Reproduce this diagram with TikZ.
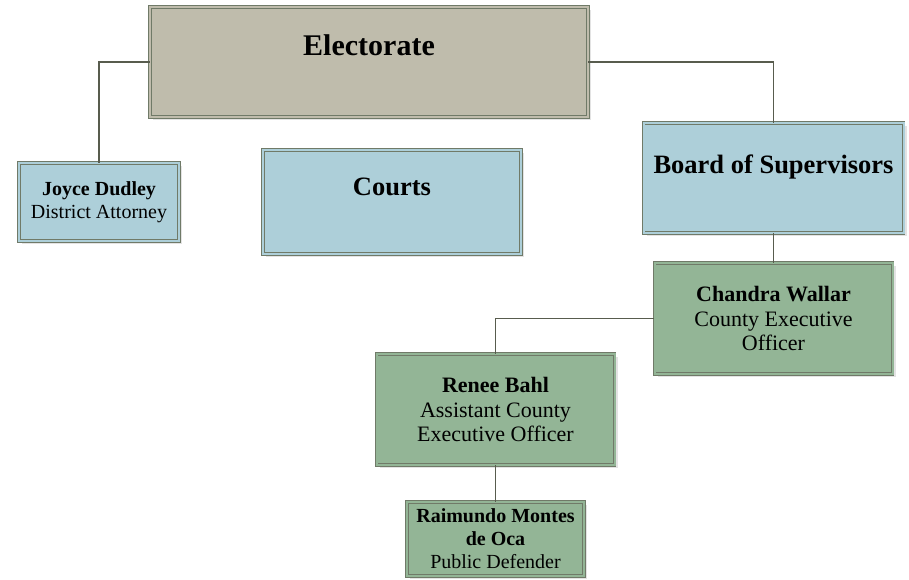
\documentclass[tikz,border=0pt]{standalone}
\usepackage{fontspec}
\setmainfont{Liberation Serif}
\usetikzlibrary{positioning, shadows, calc}
\definecolor{tanfill}{RGB}{191,188,172}
\definecolor{bluefill}{RGB}{173,207,217}
\definecolor{greenfill}{RGB}{147,181,150}
\definecolor{boxline}{RGB}{112,122,104}
\definecolor{linkline}{RGB}{88,92,78}
\tikzset{
  orgbox/.style={rectangle, draw=boxline, line width=0.7pt, double distance=2pt,
    drop shadow={shadow xshift=3pt, shadow yshift=-3pt, fill=black!22},
    align=center, inner sep=0pt},
  tanbox/.style={orgbox, fill=tanfill, double=tanfill},
  bluebox/.style={orgbox, fill=bluefill, double=bluefill},
  greenbox/.style={orgbox, fill=greenfill, double=greenfill},
}

\begin{document}
\begin{tikzpicture}[
  x=1pt, y=-1pt,
  head/.style={font=\fontsize{26.5}{30}\selectfont\bfseries},
  small/.style={font=\fontsize{20}{23}\selectfont},
  big/.style={font=\fontsize{22}{24.5}\selectfont},
  link/.style={draw=linkline, line width=1.2pt}
]
\useasboundingbox (0,0) rectangle (909,579);

% ---- top level ----
\node[tanbox, minimum width=438pt, text height=48pt, text depth=62pt,
      font=\fontsize{30}{34}\selectfont\bfseries]              (electorate) at (369,62)   {Electorate};

% ---- second row ----
\node[bluebox, small, minimum width=160pt, minimum height=78pt] (joyce)   at (99,202)    {\textbf{Joyce Dudley}\\District Attorney};
\node[bluebox, head, minimum width=258pt, text height=45pt, text depth=59pt] (courts) at (392,202) {Courts};
\node[bluebox, head, minimum width=260pt, text height=50pt, text depth=60pt] (board)  at (773.5,178) {Board of Supervisors};

% ---- executive branch ----
\node[greenbox, big, minimum width=238pt, minimum height=111pt] (chandra)  at (773.5,318.5) {\textbf{Chandra Wallar}\\County Executive\\Officer};
\node[greenbox, big, minimum width=238pt, minimum height=111pt] (renee)    at (495.5,409.5) {\textbf{Renee Bahl}\\Assistant County\\Executive Officer};
\node[greenbox, small, minimum width=177pt, minimum height=74pt] (raimundo) at (495.5,539)  {\textbf{Raimundo Montes}\\\textbf{de Oca}\\Public Defender};

% ---- connectors ----
\draw[link] (electorate.west) -| (joyce.north);
\draw[link] (electorate.east) -| (board.north);
\draw[link] (board) -- (chandra);
\draw[link] (chandra.west) -| (renee.north);
\draw[link] (renee) -- (raimundo);

\end{tikzpicture}
\end{document}
